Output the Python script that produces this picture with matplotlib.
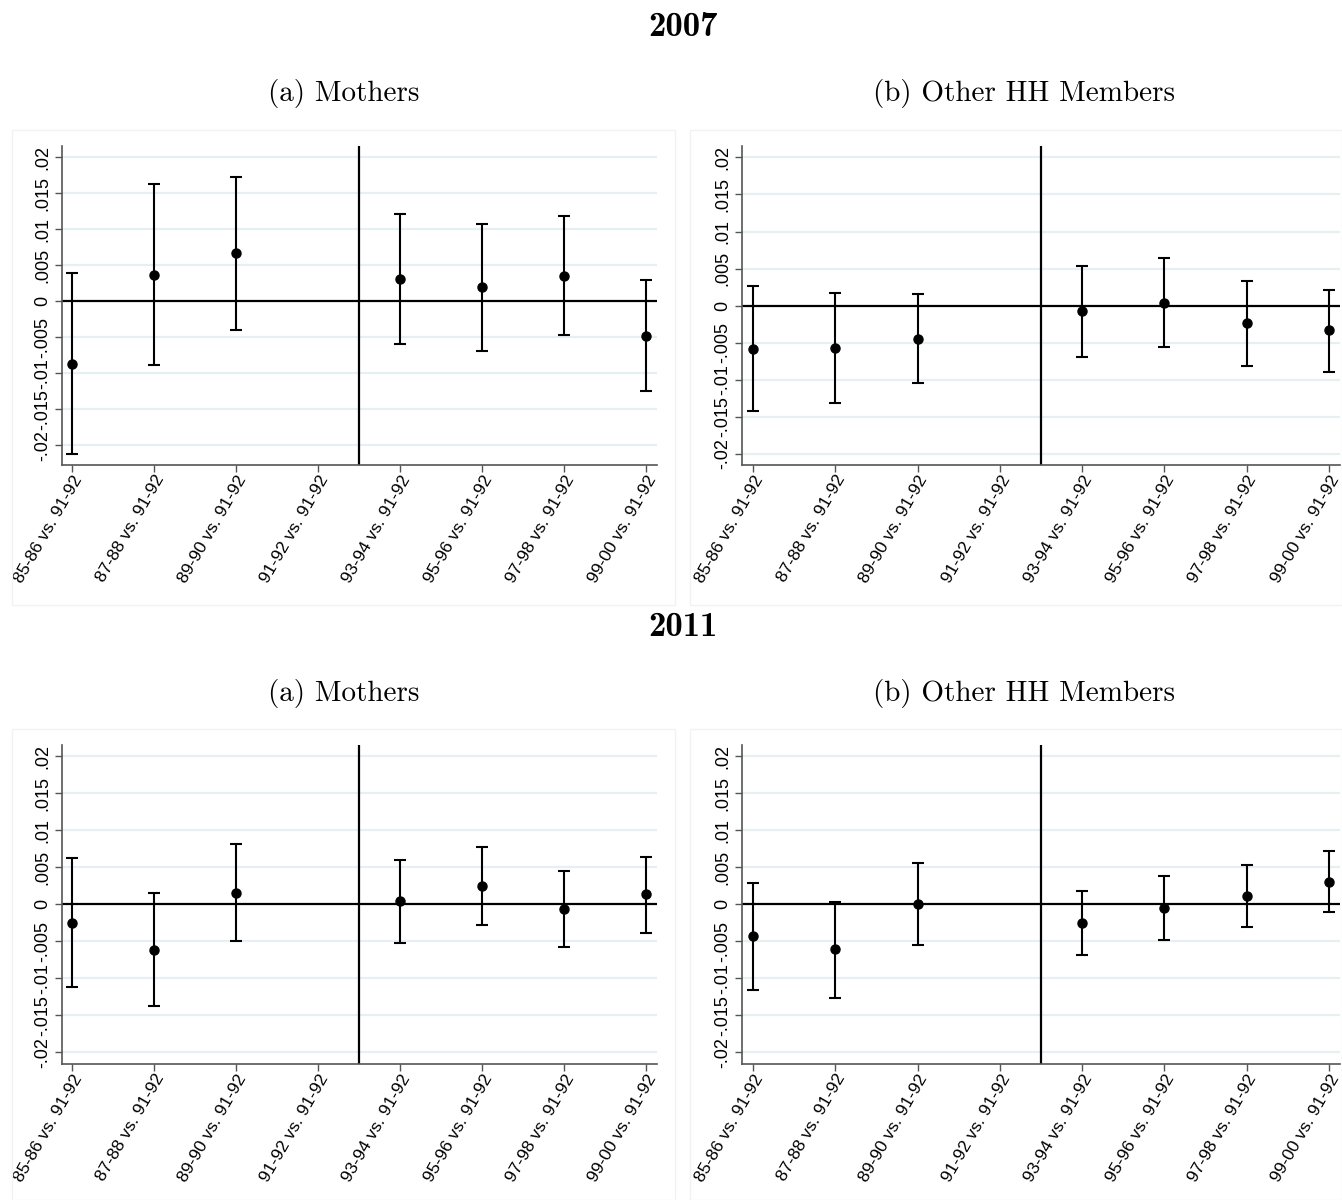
import numpy as np
import matplotlib
matplotlib.use('Agg')
import matplotlib.pyplot as plt
from matplotlib.patches import Rectangle

labels = ['85-86 vs. 91-92', '87-88 vs. 91-92', '89-90 vs. 91-92', '91-92 vs. 91-92',
          '93-94 vs. 91-92', '95-96 vs. 91-92', '97-98 vs. 91-92', '99-00 vs. 91-92']
cats = [1, 2, 3, 5, 6, 7, 8]   # 91-92 is the reference, no estimate

# 2007
m07_est = [-0.00875, 0.0037, 0.00667, 0.0031, 0.00194, 0.00356, -0.00481]
m07_hi = [0.00389, 0.01625, 0.01731, 0.01213, 0.01069, 0.01185, 0.00292]
m07_lo = [-0.0212, -0.00889, -0.00403, -0.00593, -0.00685, -0.00468, -0.0124]

o07_est = [-0.0058, -0.00571, -0.00445, -0.00076, 0.0004, -0.00238, -0.00333]
o07_hi = [0.00265, 0.00171, 0.00157, 0.0053, 0.00643, 0.00333, 0.00207]
o07_lo = [-0.0142, -0.01308, -0.01038, -0.00692, -0.00557, -0.00813, -0.0089]

# 2011
m11_est = [-0.00248, -0.00622, 0.00158, 0.00041, 0.00248, -0.00063, 0.00135]
m11_hi = [0.00622, 0.00149, 0.0082, 0.00595, 0.00779, 0.00455, 0.00644]
m11_lo = [-0.01113, -0.01374, -0.00495, -0.00518, -0.00284, -0.00581, -0.00383]

o11_est = [-0.00432, -0.00604, 0.00005, -0.00248, -0.0005, 0.00113, 0.00297]
o11_hi = [0.00284, 0.00036, 0.00559, 0.00176, 0.00387, 0.00532, 0.00716]
o11_lo = [-0.01162, -0.01261, -0.00545, -0.0068, -0.00482, -0.00311, -0.00108]

yticks = [-0.02, -0.015, -0.01, -0.005, 0, 0.005, 0.01, 0.015, 0.02]
ytlabels = ['-.02', '-.015', '-.01', '-.005', '0', '.005', '.01', '.015', '.02']

W, H = 1342, 1200
fig = plt.figure(figsize=(W / 100, H / 100), dpi=100)


def panel(rect, est, lo, hi, ylim, xlim):
    ax = fig.add_axes(rect)
    est = np.array(est)
    err = [est - np.array(lo), np.array(hi) - est]
    for y in yticks:
        if y != 0:
            ax.axhline(y, color='#e6eff2', lw=1.6, zorder=0)
    ax.axhline(0, color='black', lw=1.6, zorder=1)
    ax.axvline(4.5, color='black', lw=1.6, zorder=1)
    ax.errorbar(cats, est, yerr=err, fmt='o', color='black', ms=6.5,
                elinewidth=1.5, capsize=4, capthick=1.5, zorder=3)
    ax.set_xlim(*xlim)
    ax.set_ylim(*ylim)
    ax.set_yticks(yticks)
    ax.set_yticklabels(ytlabels, rotation=90, va='center', fontsize=13,
                       family='Liberation Sans')
    ax.set_xticks(range(1, 9))
    ax.set_xticklabels(labels, rotation=60, ha='right', rotation_mode='anchor',
                       fontsize=12.5, family='Liberation Sans')
    for s in ['top', 'right']:
        ax.spines[s].set_visible(False)
    for s in ['left', 'bottom']:
        ax.spines[s].set_color('#555555')
        ax.spines[s].set_linewidth(1.2)
    ax.tick_params(direction='out', length=5, color='#555555', width=1.0, pad=3)
    ax.tick_params(axis='x', pad=0.5)
    return ax


def px(l, r, t, b):
    return [l / W, 1 - b / H, (r - l) / W, (b - t) / H]


# panel frames
for (x0, y0, x1, y1) in [(12, 130, 675, 605), (690, 130, 1342, 605),
                         (12, 729, 675, 1200), (690, 729, 1342, 1200)]:
    fig.patches.append(Rectangle((x0 / W, 1 - y1 / H), (x1 - x0) / W, (y1 - y0) / H,
                                 transform=fig.transFigure, fill=False,
                                 edgecolor='#f2f2f2', lw=1.0))

panel(px(62, 657, 146, 465), m07_est, m07_lo, m07_hi, (-0.02273, 0.02157), (0.878, 8.134))
panel(px(742, 1340, 146, 465), o07_est, o07_lo, o07_hi, (-0.02148, 0.02153), (0.866, 8.134))
panel(px(62, 657, 745, 1064), m11_est, m11_lo, m11_hi, (-0.02158, 0.02153), (0.878, 8.134))
panel(px(742, 1340, 745, 1064), o11_est, o11_lo, o11_hi, (-0.02158, 0.02153), (0.866, 8.134))

fig.text(683 / W, 1 - 28 / H, '2007', ha='center', va='center', fontsize=25,
         family='cmb10')
fig.text(683 / W, 1 - 628 / H, '2011', ha='center', va='center', fontsize=25,
         family='cmb10')
for yy in [94, 693]:
    fig.text(344 / W, 1 - yy / H, '(a) Mothers', ha='center', va='center',
             fontsize=21, family='cmr10')
    fig.text(1024 / W, 1 - yy / H, '(b) Other HH Members', ha='center', va='center',
             fontsize=21, family='cmr10')

fig.savefig('out.png', dpi=100)
